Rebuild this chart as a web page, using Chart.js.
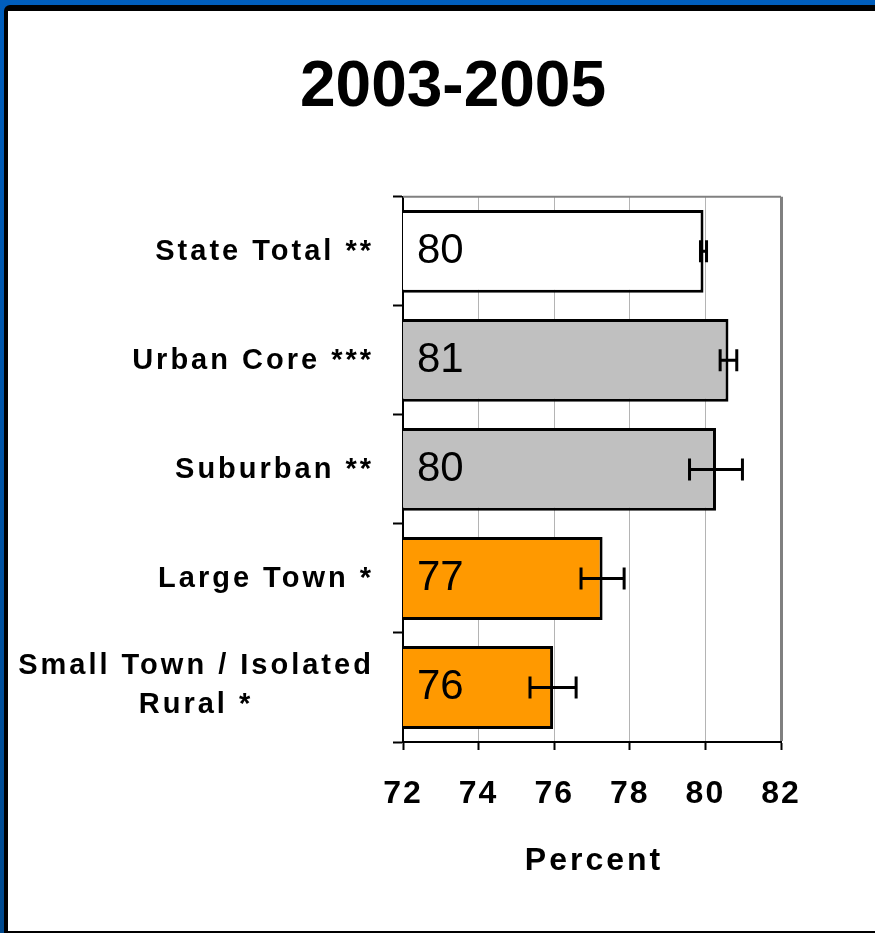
<!DOCTYPE html>
<html>
<head>
<meta charset="utf-8">
<script src="https://cdn.jsdelivr.net/npm/chart.js@4/dist/chart.umd.min.js"></script>
<style>
  *{margin:0;padding:0;box-sizing:border-box}
  html,body{width:875px;height:933px;overflow:hidden;background:#005ebd}
  .rim{position:absolute;left:0;top:0;width:875px;height:933px;background:linear-gradient(#005ebd,#004a8f)}
  .edge{position:absolute;left:4px;top:5px;right:0;bottom:0;background:#000;border-top-left-radius:6px}
  .panel{position:absolute;left:8px;top:11px;right:0;bottom:2px;background:#fff}
  .chart-wrap{position:absolute;left:0;top:0;width:875px;height:933px}
</style>
</head>
<body>
<div class="rim"><div class="edge"></div><div class="panel"></div></div>
<div class="chart-wrap"><canvas id="chart"></canvas></div>
<script>
// ─── Data ──────────────────────────────────────────────────────
const categories = [
  'State Total **',
  'Urban Core ***',
  'Suburban **',
  'Large Town *',
  ['Small Town / Isolated', 'Rural *'],
];
const percents = [79.95, 80.61, 80.28, 77.28, 75.97];
const errors = [0.08, 0.22, 0.70, 0.57, 0.61];
const barColors = ['#ffffff', '#c0c0c0', '#c0c0c0', '#ff9900', '#ff9900'];
const xTicks = [72, 74, 76, 78, 80, 82];
const xTitle = 'Percent';

const FONT = '"Liberation Sans", Arial, sans-serif';

// ─── Extras: plot frame, error bars, labels ───────────────────
const extras = {
  id: 'extras',
  beforeDraw(chart) {
    chart.ctx.letterSpacing = '0px';
  },
  beforeDatasetsDraw(chart) {
    const { ctx, chartArea: a } = chart;
    ctx.save();
    ctx.strokeStyle = '#808080';
    ctx.lineWidth = 2;
    ctx.beginPath();
    ctx.moveTo(a.left, a.top);
    ctx.lineTo(a.right, a.top);
    ctx.stroke();
    ctx.restore();
  },
  afterDatasetsDraw(chart) {
    const { ctx, chartArea: a } = chart;
    const xs = chart.scales.x, ys = chart.scales.y;
    const bars = chart.getDatasetMeta(0).data;
    ctx.save();

    // error bars
    ctx.strokeStyle = '#000';
    ctx.lineWidth = 3;
    percents.forEach((v, i) => {
      const cy = bars[i].y;
      const x0 = xs.getPixelForValue(v - errors[i]);
      const x1 = xs.getPixelForValue(v + errors[i]);
      ctx.beginPath();
      ctx.moveTo(x0, cy); ctx.lineTo(x1, cy);
      ctx.moveTo(x0, cy - 11); ctx.lineTo(x0, cy + 11);
      ctx.moveTo(x1, cy - 11); ctx.lineTo(x1, cy + 11);
      ctx.stroke();
    });

    // value labels inside bars
    ctx.fillStyle = '#000';
    ctx.letterSpacing = '0px';
    ctx.font = '42px ' + FONT;
    ctx.textBaseline = 'middle';
    ctx.textAlign = 'left';
    percents.forEach((v, i) => {
      ctx.fillText(String(Math.round(v)), xs.getPixelForValue(xs.min) + 14, bars[i].y);
    });

    // category labels (single lines right aligned, wrapped label centred)
    ctx.font = 'bold 29px ' + FONT;
    ctx.letterSpacing = '3px';
    categories.forEach((c, i) => {
      const cy = ys.getPixelForValue(i);
      if (Array.isArray(c)) {
        ctx.textAlign = 'center';
        c.forEach((line, k) => ctx.fillText(line, 196, cy + (k - (c.length - 1) / 2) * 39 - 2));
      } else {
        ctx.textAlign = 'right';
        ctx.fillText(c, 374, cy + 1);
      }
    });

    // x axis title
    ctx.font = 'bold 32px ' + FONT;
    ctx.letterSpacing = '3px';
    ctx.textAlign = 'center';
    ctx.fillText(xTitle, (a.left + a.right) / 2 + 2, a.bottom + 119);
    ctx.restore();

    // x tick labels are drawn on a later layer with a little spacing
    ctx.letterSpacing = '2px';
  },
  afterDraw(chart) {
    chart.ctx.letterSpacing = '0px';
  },
};

Chart.defaults.color = '#000';

new Chart(document.getElementById('chart'), {
  type: 'bar',
  data: {
    labels: categories,
    datasets: [{
      data: percents,
      backgroundColor: barColors,
      borderColor: '#000',
      borderWidth: 3,
      borderSkipped: false,
      barPercentage: 0.76,
      categoryPercentage: 1,
    }],
  },
  options: {
    indexAxis: 'y',
    responsive: true,
    maintainAspectRatio: false,
    animation: false,
    events: [],
    layout: { padding: { left: 125, right: 94, top: 0, bottom: 0 } },
    plugins: {
      legend: { display: false },
      tooltip: { enabled: false },
      title: {
        display: true,
        text: '2003-2005',
        color: '#000',
        font: { size: 64, weight: 'bold', family: FONT },
        padding: { top: 50, bottom: 70 },
      },
    },
    scales: {
      x: {
        position: 'bottom',
        min: xTicks[0],
        max: xTicks[xTicks.length - 1],
        ticks: {
          stepSize: xTicks[1] - xTicks[0],
          color: '#000',
          font: { size: 32, weight: 'bold', family: FONT },
          padding: 25,
          z: 1,
        },
        grid: {
          color: (c) => (c.tick && c.tick.value === xTicks[xTicks.length - 1] ? '#808080' : '#b4b4b4'),
          lineWidth: (c) => (c.tick && c.tick.value === xTicks[xTicks.length - 1] ? 3 : 1),
          tickColor: '#000',
          tickLength: 8,
          tickWidth: 2,
        },
        border: { color: '#000', width: 2 },
        title: { display: false },
        afterFit: (s) => { s.height = 191; },
      },
      y: {
        ticks: { display: false },
        grid: {
          drawOnChartArea: false,
          color: '#000',
          tickColor: '#000',
          tickLength: 10,
          tickWidth: 2,
        },
        border: { color: '#000', width: 2 },
        afterFit: (s) => { s.width = 278; },
      },
    },
  },
  plugins: [extras],
});
</script>
</body>
</html>
